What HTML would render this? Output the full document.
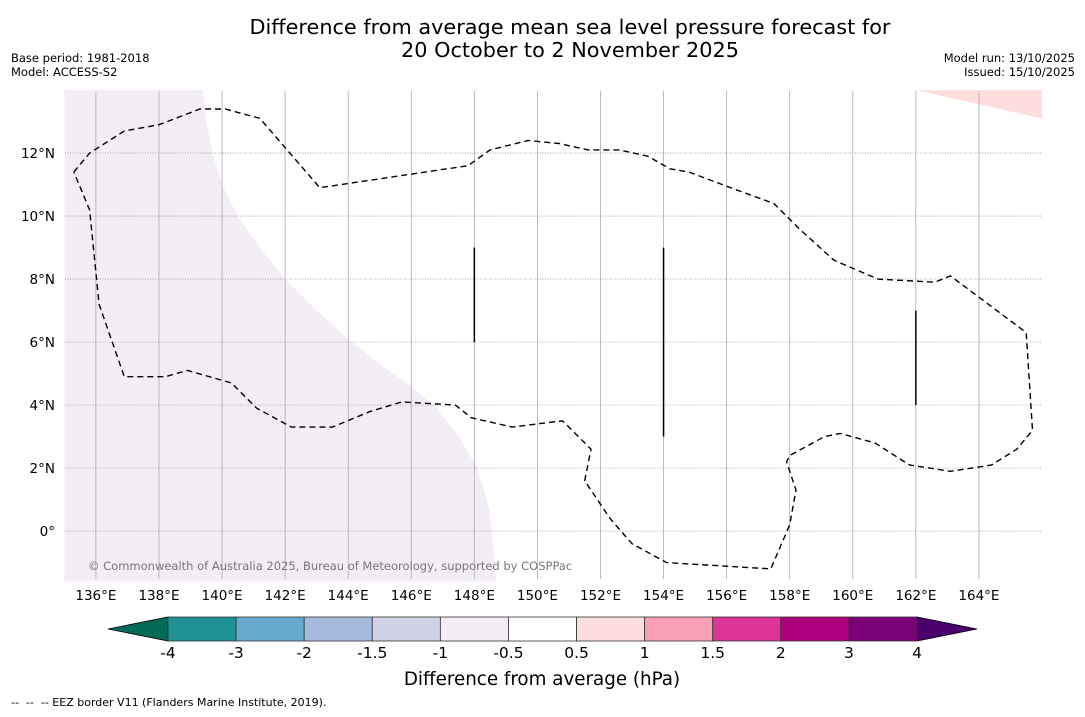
<!DOCTYPE html>
<html><head><meta charset="utf-8">
<style>
html,body{margin:0;padding:0;background:#fff;}
body{width:1085px;height:713px;overflow:hidden;font-family:"DejaVu Sans","Liberation Sans",sans-serif;}
</style></head>
<body>
<svg id="chart" width="1085" height="713" viewBox="0 0 1085 713" xmlns="http://www.w3.org/2000/svg" font-family="DejaVu Sans, Liberation Sans, sans-serif">
<text x="570" y="34" font-size="20.8" text-anchor="middle" fill="#000">Difference from average mean sea level pressure forecast for</text>
<text x="570" y="57" font-size="20.8" text-anchor="middle" fill="#000">20 October to 2 November 2025</text>
<text x="11" y="62" font-size="11.5">Base period: 1981-2018</text>
<text x="11" y="76" font-size="11.5">Model: ACCESS-S2</text>
<text x="1075" y="62" font-size="11.5" text-anchor="end">Model run: 13/10/2025</text>
<text x="1075" y="76" font-size="11.5" text-anchor="end">Issued: 15/10/2025</text>
<g id="map"></g>
<g id="cbar"></g>
<text x="542" y="685" font-size="18.3" text-anchor="middle">Difference from average (hPa)</text>
<text x="11" y="706" font-size="11" style="white-space:pre" xml:space="preserve">--  --  -- EEZ border V11 (Flanders Marine Institute, 2019).</text>
</svg>
<script>
const lonTicks=[136,138,140,142,144,146,148,150,152,154,156,158,160,162,164];
const latTicks=[0,2,4,6,8,10,12];
const latLabels=["0°","2°N","4°N","6°N","8°N","10°N","12°N"];
const cbarBounds=["-4","-3","-2","-1.5","-1","-0.5","0.5","1","1.5","2","3","4"];
const cbarColors=["#1f9298","#67a9cf","#a6bbdb","#d0d1e6","#f3edf6","#ffffff","#fddedd","#f99fb6","#dd3497","#ae017e","#7a0177"];
const cbarExtend=["#026b5a","#4a006a"];
const eezLon=[135.3,135.8,136.9,138.0,139.3,140.1,141.2,143.1,147.8,148.5,149.7,150.7,151.6,152.6,153.5,154.2,154.8,156.4,157.5,158.3,159.4,160.8,162.6,163.1,165.5,165.7,165.2,164.4,163.1,161.8,160.7,159.6,159.1,158.0,157.9,158.2,158.0,157.4,154.1,153.0,152.3,151.5,151.7,150.8,149.2,147.9,147.4,145.7,144.7,143.5,142.2,141.1,140.3,138.9,138.2,136.9,136.1,135.8,135.3];
const eezLat=[11.4,12.0,12.7,12.9,13.4,13.4,13.1,10.9,11.6,12.1,12.4,12.3,12.1,12.1,11.9,11.5,11.4,10.8,10.4,9.6,8.6,8.0,7.9,8.1,6.3,3.2,2.6,2.1,1.9,2.1,2.8,3.1,3.0,2.4,2.2,1.3,0.2,-1.2,-1.0,-0.4,0.4,1.6,2.6,3.5,3.3,3.6,4.0,4.1,3.8,3.3,3.3,3.9,4.7,5.1,4.9,4.9,7.2,10.2,11.4];
const purpleLon=[135.0,139.4,139.5,139.7,140.0,140.5,141.2,142.0,143.0,144.0,145.0,146.0,146.8,147.5,148.1,148.5,148.7,135.0];
const purpleLat=[14.0,14.0,13.0,12.0,11.0,10.0,9.0,8.0,7.0,6.1,5.3,4.6,3.9,3.0,2.0,0.6,-1.6,-1.6];
const pinkLon=[162.0,166.0,166.0];
const pinkLat=[14.0,14.0,13.1];
const lon0=135.02,lon1=166.0,lat0=-1.52,lat1=13.97;
const X0=65,X1=1042,Y0=579,Y1=91;
function xs(l){return X0+(l-lon0)/(lon1-lon0)*(X1-X0);}
function ys(l){return Y0-(l-lat0)/(lat1-lat0)*(Y0-Y1);}
const NS="http://www.w3.org/2000/svg";
function mk(t,a,p){const e=document.createElementNS(NS,t);for(const k in a)e.setAttribute(k,a[k]);p.appendChild(e);return e;}
const map=document.getElementById('map');
const bg=mk('rect',{x:X0,y:Y1,width:X1-X0,height:Y0-Y1,fill:'#fff'},map);


function poly(lo,la){return lo.map((v,i)=>xs(v).toFixed(1)+','+ys(la[i]).toFixed(1)).join(' ');}
const pp=mk('polygon',{points:poly(purpleLon,purpleLat),fill:'#f3edf6'},map);


const pk=mk('polygon',{points:poly(pinkLon,pinkLat),fill:'#fddedd'},map);


lonTicks.forEach(l=>{
 const g=mk('line',{x1:xs(l),x2:xs(l),y1:Y1,y2:Y0,stroke:'#aaa','stroke-width':0.8},map);
 
 
 const t=mk('text',{x:xs(l),y:600,'font-size':13.5,'text-anchor':'middle'},map);
 t.textContent=l+'°E';
 
 
});
latTicks.forEach((l,i)=>{
 const g=mk('line',{x1:X0,x2:X1,y1:ys(l),y2:ys(l),stroke:'#999','stroke-width':0.8,'stroke-dasharray':'1,1.5'},map);
 
 
 const t=mk('text',{x:55,y:ys(l)+5,'font-size':13.5,'text-anchor':'end'},map);
 t.textContent=latLabels[i];
 
 
});
const ez=mk('polyline',{points:poly(eezLon,eezLat),fill:'none',stroke:'#000','stroke-width':1.4,'stroke-dasharray':'6,4'},map);


[[148,6,9],[154,3,9],[162,4,7]].forEach(s=>{
 const l=mk('line',{x1:xs(s[0]),x2:xs(s[0]),y1:ys(s[1]),y2:ys(s[2]),stroke:'#000','stroke-width':1.5},map);
 
 
});
const cr=mk('text',{x:88,y:570,'font-size':11.5,fill:'#777'},map);
cr.textContent='© Commonwealth of Australia 2025, Bureau of Meteorology, supported by COSPPac';


const cb=document.getElementById('cbar');
const CX0=168,CX1=917,CY=617,CH=24;
const n=cbarColors.length,w=(CX1-CX0)/n;
function cx(i){return CX0+i*w;}
const lt=mk('polygon',{points:`${cx(0)},${CY} ${cx(0)},${CY+CH} 108,${CY+CH/2}`,fill:cbarExtend[0],stroke:'#000','stroke-width':0.8},cb);


const rt=mk('polygon',{points:`${cx(n)},${CY} ${cx(n)},${CY+CH} 977,${CY+CH/2}`,fill:cbarExtend[1],stroke:'#000','stroke-width':0.8},cb);


cbarColors.forEach((c,i)=>{
 const r=mk('rect',{x:cx(i),y:CY,width:w,height:CH,fill:c,stroke:'#333','stroke-width':0.8},cb);
 
 
});
cbarBounds.forEach((b,i)=>{
 const t=mk('text',{x:cx(i),y:658,'font-size':15.5,'text-anchor':'middle'},cb);
 t.textContent=b;
 
 
});
</script>
</body></html>
